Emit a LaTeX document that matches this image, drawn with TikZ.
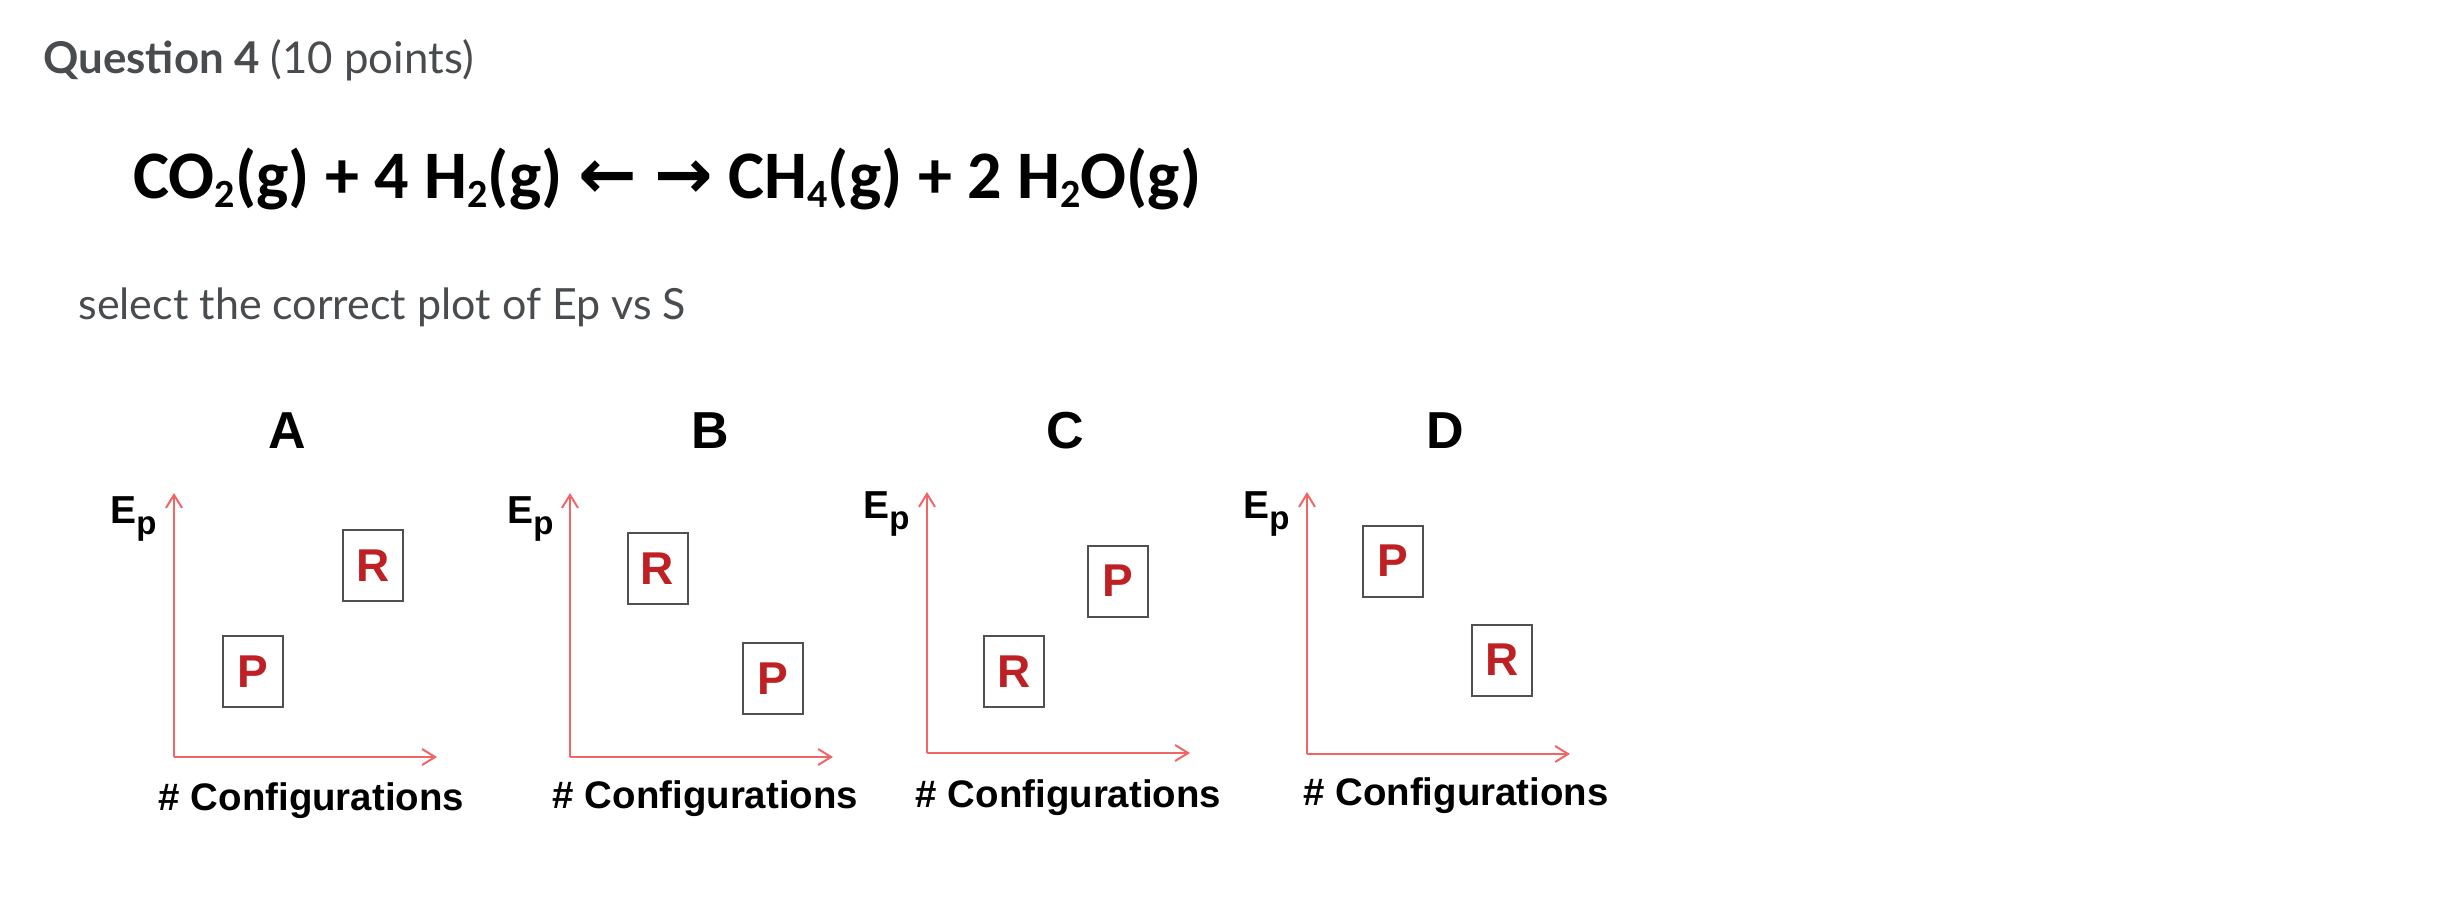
\documentclass[tikz,border=0pt]{standalone}
\usepackage{fontspec}
\setmainfont{Lato}
\newfontfamily\chemfont{Carlito}
\newfontfamily\plotfont{Liberation Sans}
\newfontfamily\arrowfont{DejaVu Sans}
\usetikzlibrary{arrows.meta}
\definecolor{qgray}{RGB}{73,76,79}
\definecolor{axisred}{RGB}{240,102,102}
\definecolor{boxred}{RGB}{190,32,36}
\definecolor{boxgray}{RGB}{80,80,80}
\newcommand{\chemsub}[1]{\raisebox{-4.5pt}{\fontsize{20}{20}\selectfont #1}}
\newcommand{\chemarrow}[1]{{\arrowfont\bfseries\fontsize{35}{35}\selectfont #1}}
\newcommand{\epsym}{E\raisebox{-5.5pt}{\fontsize{16.5}{16.5}\selectfont p}}

\begin{document}
\begin{tikzpicture}[x=.5pt,y=-.5pt,
  heading/.style={anchor=base west,inner sep=0pt,text=qgray,font=\fontsize{21.5}{26}\selectfont},
  reaction/.style={anchor=base west,inner sep=0pt,font=\chemfont\bfseries\fontsize{34}{40}\selectfont},
  choice/.style={anchor=base,inner sep=0pt,font=\plotfont\bfseries\fontsize{26}{30}\selectfont},
  ylab/.style={anchor=base west,inner sep=0pt,font=\plotfont\bfseries\fontsize{19.5}{22}\selectfont},
  xlab/.style={anchor=base,inner sep=0pt,font=\plotfont\bfseries\fontsize{19.2}{22}\selectfont},
  statebox/.style={draw=boxgray,line width=1pt,minimum width=30pt,minimum height=35.5pt,inner sep=0pt,
    text=boxred,font=\plotfont\bfseries\fontsize{23}{26}\selectfont},
  axis/.style={draw=axisred,line width=1pt,-{Straight Barb[length=6.5pt,width=8pt]}}]

\path[use as bounding box] (0,0) rectangle (2439,903);

% question text
\node[heading,font=\fontsize{21.9}{26}\selectfont] (qtitle) at (43,74) {\bfseries Question 4 \mdseries(10 points)};
\node[reaction] (reaction) at (133,199)
  {CO\chemsub{2}(g) + 4 H\chemsub{2}(g) \chemarrow{←}\hspace{9pt}\chemarrow{→} CH\chemsub{4}(g) + 2 H\chemsub{2}O(g)};
\node[heading] (prompt) at (78,320) {select the correct plot of Ep vs S};

% the four answer plots
\foreach \id/\ox/\oy/\top/\rgt/\lx/\ex/\ey/\cx/\cy/\rx/\ry/\px/\py in {
  A/174/757/493/437/287/110/523/311.5/810/373/565.5/253/671.5,
  B/570/757/493/833/710/507/523/705.5/808/657.5/568.5/773/678.5,
  C/927/753/492/1190/1065/863/518/1068.5/807/1014/671.5/1118/581,
  D/1307/754/492/1570/1445/1243/518/1456/805/1502/660/1392.5/561}
{
  \coordinate (o\id) at (\ox,\oy);
  \coordinate (t\id) at (\ox,\top);
  \coordinate (r\id) at (\rgt,\oy);
  \draw[axis] (o\id)--(t\id);
  \draw[axis] (o\id)--(r\id);
  \node[choice] (lab\id) at (\lx,448) {\id};
  \node[ylab] (ep\id) at (\ex,\ey) {\epsym};
  \node[xlab] (conf\id) at (\cx,\cy) {\# Configurations};
  \node[statebox] (R\id) at (\rx,\ry) {R};
  \node[statebox] (P\id) at (\px,\py) {P};
}

\end{tikzpicture}
\end{document}
